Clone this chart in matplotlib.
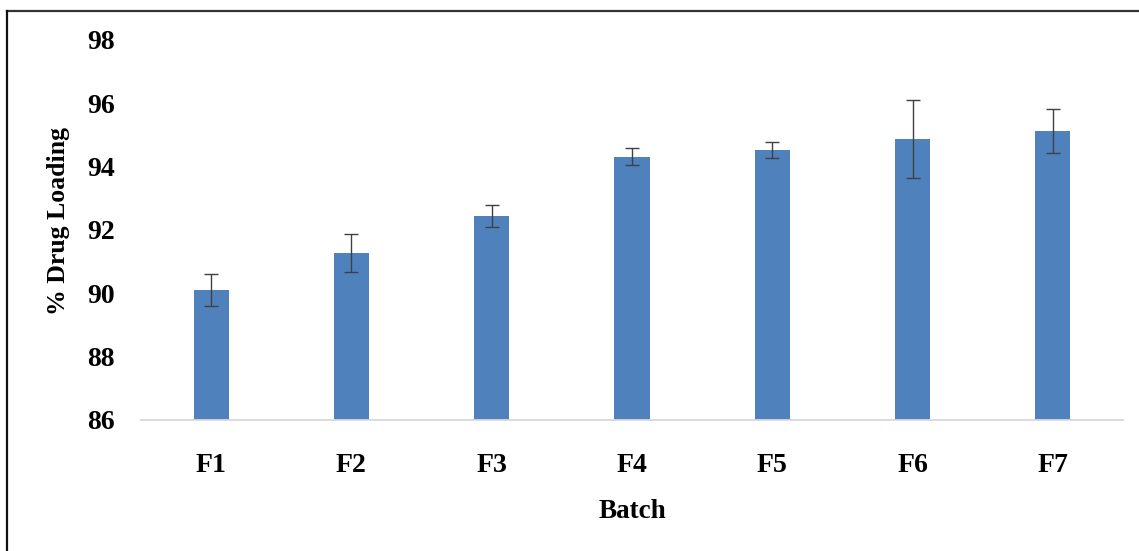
import matplotlib
matplotlib.use("Agg")
import matplotlib.pyplot as plt
from matplotlib.lines import Line2D

categories = ["F1", "F2", "F3", "F4", "F5", "F6", "F7"]
values = [90.10, 91.26, 92.45, 94.31, 94.53, 94.86, 95.13]
errors = [0.51, 0.60, 0.35, 0.27, 0.25, 1.23, 0.70]
yticks = [86, 88, 90, 92, 94, 96, 98]

W, H = 1139, 551
fig = plt.figure(figsize=(W / 100, H / 100), dpi=100)
ax = fig.add_axes([141 / W, 1 - 420 / H, (1123 - 141) / W, (420 - 40) / H])

font = {"family": "Liberation Serif", "weight": "bold", "size": 20}

x = list(range(len(categories)))
ax.bar(x, [v - 86 for v in values], bottom=86, width=0.25, color="#4F81BD", zorder=2)
ax.errorbar(x, values, yerr=errors, fmt="none", ecolor="#404040", elinewidth=1.0,
            capsize=5, capthick=1.0, zorder=3)

ax.set_xlim(-0.5, len(categories) - 0.5)
ax.set_ylim(86, 98)
ax.set_yticks(yticks)
ax.set_xticks(x)
ax.set_xticklabels(categories, fontdict=font)
ax.set_yticklabels([str(t) for t in yticks], fontdict=font)
ax.tick_params(axis="both", length=0)
ax.tick_params(axis="x", pad=24)
ax.tick_params(axis="y", pad=19)

for s in ["top", "right", "left"]:
    ax.spines[s].set_visible(False)
ax.spines["bottom"].set_color("#D9D9D9")
ax.spines["bottom"].set_linewidth(1.3)

fig.text(58 / W, 1 - 221 / H, "% Drug Loading", rotation=90, ha="center", va="center",
         family="Liberation Serif", weight="bold", size=18.5)
fig.text(632 / W, 1 - 512 / H, "Batch", ha="center", va="center",
         family="Liberation Serif", weight="bold", size=19.5)

# outer frame (top and left visible)
fig.add_artist(Line2D([7 / W, 1.0], [1 - 11 / H, 1 - 11 / H], transform=fig.transFigure,
                      color="#333333", linewidth=1.6))
fig.add_artist(Line2D([7 / W, 7 / W], [0, 1 - 11 / H], transform=fig.transFigure,
                      color="#111111", linewidth=1.6))

fig.savefig("out.png", dpi=100)
